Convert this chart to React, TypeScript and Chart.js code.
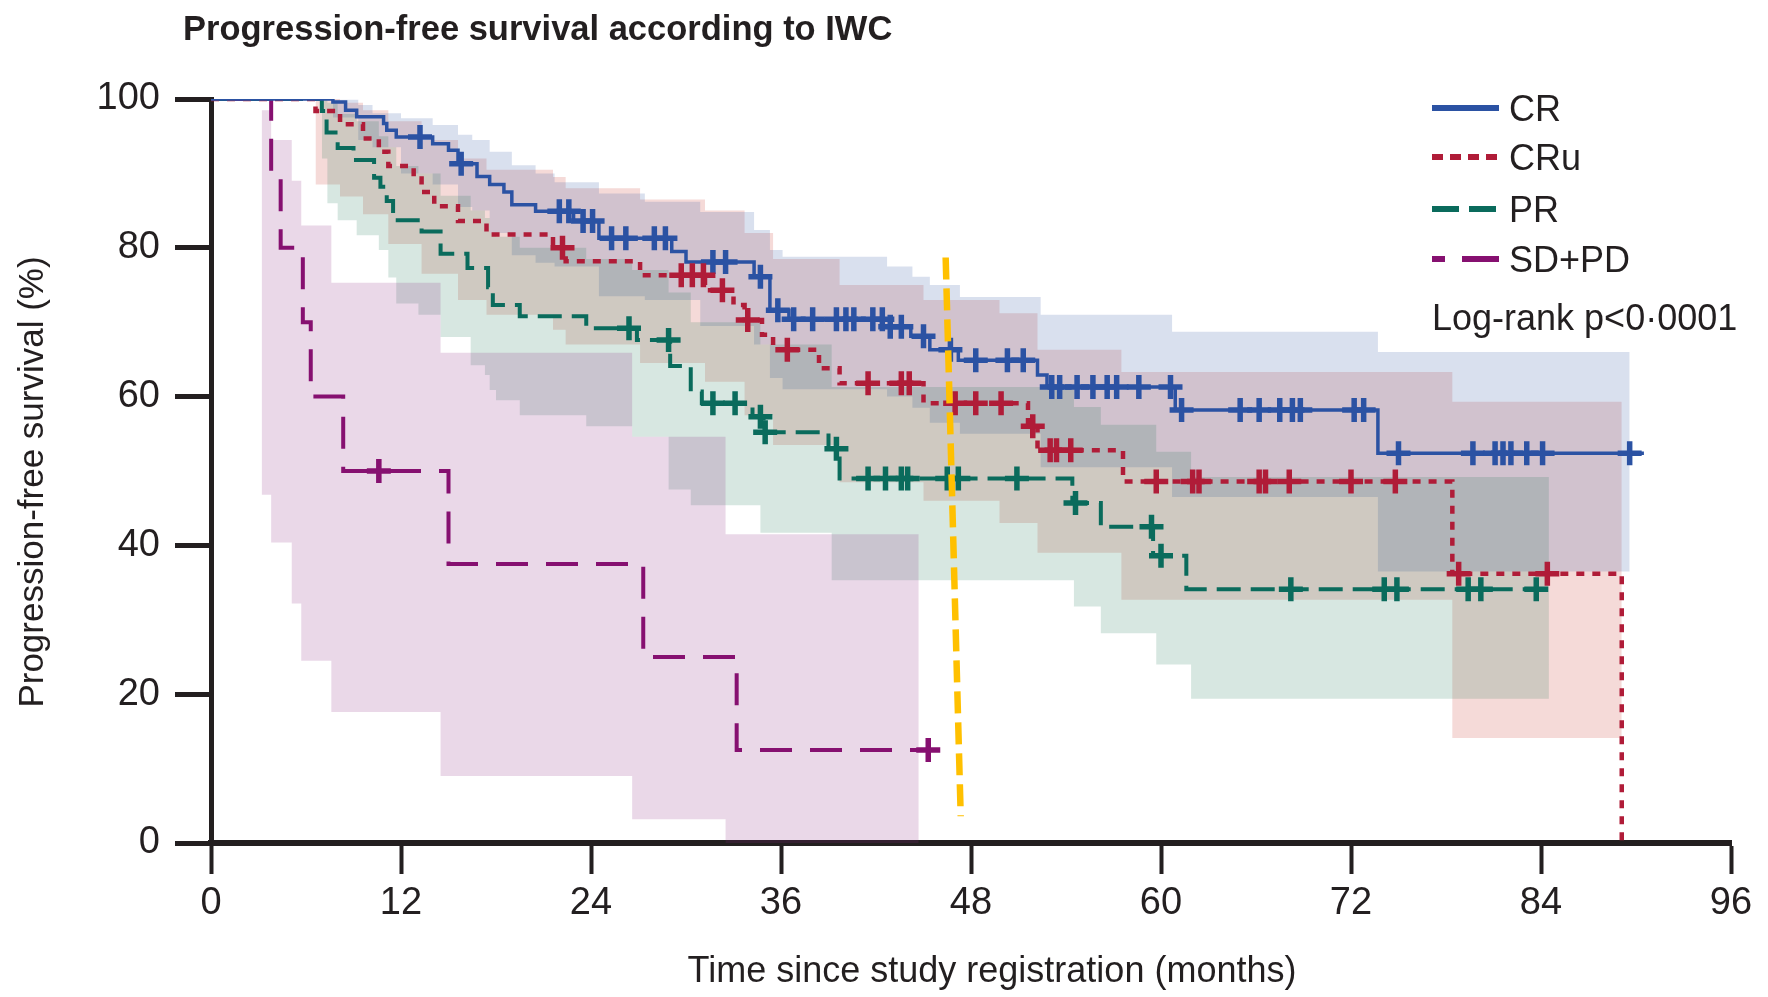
import React, { useEffect, useRef } from "react";
import { Chart, registerables } from "chart.js";

Chart.register(...registerables);

const INK = "#231f20";
const FONT = "'Liberation Sans', Arial, sans-serif";

const xTicks = [0, 12, 24, 36, 48, 60, 72, 84, 96];
const yTicks = [0, 20, 40, 60, 80, 100];

const chartTitle = "Progression-free survival according to IWC";
const xTitle = "Time since study registration (months)";
const yTitle = "Progression-free survival (%)";
const pValueText = "Log-rank p<0·0001";
const groupLabels = ["CR", "CRu", "PR", "SD+PD"];

// ---- CR ----
const crTime = [0, 7.7, 8.5, 9.2, 10.9, 11.1, 11.7, 14.0, 15.0, 15.6, 16.8, 17.6, 18.5, 19.0, 20.5, 22.9, 24.5, 29.1, 30.0, 34.3, 35.3, 36.5, 42.9, 44.2, 45.4, 47.2, 52.2, 52.8, 60.9, 73.7, 90.5];
const crSurv = [100, 99.6, 98.5, 97.6, 96.7, 95.8, 94.9, 94.0, 93.1, 91.3, 89.6, 88.5, 87.5, 85.8, 84.9, 83.6, 81.3, 79.5, 78.1, 76.1, 71.6, 70.4, 69.4, 68.1, 66.3, 64.9, 62.9, 61.3, 58.2, 52.4, 52.4];
const crCensor = [13.2, 15.8, 22.0, 22.6, 23.5, 24.1, 25.3, 26.2, 28.0, 28.7, 31.7, 32.5, 34.7, 35.8, 36.8, 38.0, 39.5, 40.1, 40.6, 41.8, 42.4, 42.9, 43.6, 45.0, 46.7, 48.3, 50.3, 51.3, 53.1, 53.6, 54.7, 55.7, 56.6, 57.2, 58.6, 60.6, 61.3, 65.0, 66.2, 67.5, 68.3, 68.8, 72.2, 72.8, 75.0, 79.7, 81.1, 81.6, 82.1, 83.1, 84.1, 89.6];
const crBandTime = [7.7, 9.3, 10.2, 12.0, 14.0, 15.6, 16.5, 17.6, 19.0, 20.5, 21.7, 24.5, 27.4, 30.9, 34.3, 35.3, 36.1, 42.7, 44.3, 45.4, 47.3, 52.4, 60.7, 73.7, 89.6];
const crBandHigh = [99.9, 99.2, 98.1, 97.4, 96.5, 95.2, 94.5, 92.9, 91.1, 90.0, 88.8, 87.3, 86.2, 84.8, 82.4, 79.7, 78.8, 77.5, 76.1, 75.0, 73.4, 71.0, 68.7, 66.0, 66.0];
const crBandLow = [97.5, 94.5, 93.5, 90.0, 88.5, 85.5, 85.0, 82.0, 79.0, 78.0, 77.5, 73.5, 73.0, 69.5, 67.0, 62.5, 61.0, 60.0, 58.5, 56.5, 55.0, 50.5, 46.5, 36.5, 36.5];

// ---- CRu ----
const cruTime = [0, 6.6, 8.15, 9.6, 10.6, 11.2, 12.8, 13.3, 14.1, 15.6, 17.4, 21.6, 22.4, 27.1, 31.2, 33.0, 33.7, 34.8, 35.5, 38.4, 39.7, 45.0, 51.6, 52.2, 57.6, 78.4, 89.1];
const cruSurv = [100, 98.4, 96.6, 94.7, 92.9, 91.0, 89.3, 87.5, 85.6, 83.6, 81.8, 80.0, 78.2, 76.3, 74.3, 72.3, 70.3, 68.3, 66.3, 63.8, 61.8, 59.1, 56.0, 52.8, 48.6, 36.2, 0];
const cruCensor = [22.2, 29.7, 30.4, 31.1, 32.3, 33.9, 36.4, 41.5, 43.6, 44.1, 47.0, 48.3, 49.9, 51.9, 53.0, 53.4, 54.3, 59.7, 62.0, 62.4, 66.2, 66.6, 68.1, 72.0, 74.8, 78.8, 84.4];
const cruBandTime = [6.6, 8.15, 9.6, 11.2, 13.3, 15.6, 17.4, 21.6, 22.4, 27.1, 31.2, 33.7, 35.5, 39.7, 45.0, 49.8, 52.2, 57.5, 78.4, 89.1];
const cruBandHigh = [100, 99.5, 98.5, 97.0, 94.5, 92.0, 90.5, 89.5, 88.0, 86.5, 85.0, 82.0, 78.5, 75.0, 73.0, 71.2, 66.3, 63.3, 59.3, 59.3];
const cruBandLow = [88.5, 86.9, 84.5, 80.5, 76.5, 73.0, 71.0, 69.0, 67.0, 64.5, 62.0, 57.5, 53.5, 48.5, 46.0, 43.0, 39.0, 32.7, 14.1, 14.1];

// ---- PR ----
const prTime = [0, 7.0, 7.3, 8.0, 9.0, 10.3, 10.7, 11.1, 11.5, 13.3, 14.5, 16.2, 17.5, 17.8, 19.5, 23.7, 26.9, 29.0, 30.3, 31.0, 34.2, 34.9, 39.0, 39.7, 54.4, 56.2, 59.5, 61.6, 84.0];
const prSurv = [100, 98.4, 95.5, 93.4, 91.8, 89.4, 88.2, 86.3, 83.7, 82.2, 79.2, 77.3, 74.7, 72.3, 70.8, 69.2, 67.6, 64.1, 60.7, 59.1, 57.3, 55.2, 53.0, 49.0, 45.7, 42.5, 38.6, 34.1, 34.1];
const prCensor = [26.4, 28.9, 31.7, 33.1, 34.7, 35.0, 39.5, 41.5, 42.6, 43.6, 44.0, 46.5, 47.2, 50.9, 54.6, 59.4, 60.0, 68.2, 74.1, 74.9, 79.4, 80.2, 83.7];
const prBandTime = [7.0, 7.35, 8.0, 9.2, 10.6, 11.2, 11.7, 13.1, 14.5, 16.4, 17.3, 17.6, 18.0, 19.5, 23.7, 26.6, 28.9, 30.3, 34.7, 39.2, 54.5, 56.2, 59.7, 61.9, 84.5];
const prBandHigh = [100, 99.5, 98.0, 97.0, 95.0, 93.5, 91.0, 90.0, 87.0, 85.0, 84.0, 82.0, 81.5, 80.0, 78.5, 77.0, 74.0, 70.0, 67.0, 61.3, 58.6, 56.2, 52.6, 49.2, 49.2];
const prBandLow = [92.0, 86.0, 83.7, 81.7, 79.7, 76.0, 72.5, 71.0, 68.0, 64.2, 62.9, 60.9, 59.5, 57.5, 56.0, 54.6, 47.5, 45.4, 41.7, 35.3, 31.8, 28.2, 24.0, 19.4, 19.4];

// ---- SD + PD ----
const sdTime = [0, 3.8, 4.4, 5.8, 6.3, 8.35, 15.0, 27.3, 33.2, 45.3];
const sdSurv = [100, 90, 80, 70, 60, 50, 37.5, 25, 12.5, 12.5];
const sdCensor = [10.6, 45.3];
const sdBandTime = [3.2, 3.8, 5.1, 5.7, 7.6, 14.5, 26.6, 32.5, 44.7];
const sdBandHigh = [98.5, 94.5, 89.0, 83.0, 75.3, 65.9, 54.6, 41.5, 41.5];
const sdBandLow = [46.8, 40.4, 32.2, 24.5, 17.6, 9.0, 3.2, 0, 0];

// ---- reference marker ----
const markerTime = [46.4, 47.35];
const markerValue = [78.7, 3.6];

const colors = {
  cr: "#2b52a3",
  cru: "#b01c38",
  pr: "#0a6b5c",
  sd: "#861070",
  marker: "#ffc000",
};
const bandColors = {
  cr: "rgba(43,82,163,0.18)",
  cru: "rgba(200,60,50,0.19)",
  pr: "rgba(20,110,80,0.17)",
  sd: "rgba(140,40,130,0.18)",
};

const pts = (xs: number[], ys: number[]) => xs.map((x, i) => ({ x, y: ys[i] }));
const survAt = (times: number[], vals: number[], t: number) => {
  let v = vals[0];
  for (let i = 0; i < times.length; i++) if (times[i] <= t) v = vals[i];
  return v;
};
const censorPts = (times: number[], vals: number[], cens: number[]) =>
  cens.map((t) => ({ x: t, y: survAt(times, vals, t) }));

const legendSpec = [
  { color: colors.cr, dash: [], y: 108 },
  { color: colors.cru, dash: [11, 7], y: 157 },
  { color: colors.pr, dash: [27, 10], y: 209 },
  { color: colors.sd, dash: [13, 17, 40], y: 259 },
];

const textPlugin = {
  id: "textOverlay",
  afterDraw(chart: any) {
    const ctx = chart.ctx as CanvasRenderingContext2D;
    ctx.save();
    ctx.fillStyle = INK;
    ctx.textBaseline = "alphabetic";
    ctx.font = `bold 34.5px ${FONT}`;
    ctx.textAlign = "left";
    ctx.fillText(chartTitle, 183, 40);

    ctx.font = `36px ${FONT}`;
    ctx.textAlign = "center";
    ctx.fillText(xTitle, 992, 982);
    ctx.save();
    ctx.translate(43, 482);
    ctx.rotate(-Math.PI / 2);
    ctx.font = `35px ${FONT}`;
    ctx.fillText(yTitle, 0, 0);
    ctx.restore();

    ctx.font = `36px ${FONT}`;
    ctx.textAlign = "left";
    legendSpec.forEach((l, i) => {
      ctx.save();
      ctx.strokeStyle = l.color;
      ctx.lineWidth = 6;
      ctx.setLineDash(l.dash);
      ctx.beginPath();
      ctx.moveTo(1432, l.y);
      ctx.lineTo(1499, l.y);
      ctx.stroke();
      ctx.restore();
      ctx.fillText(groupLabels[i], 1509, l.y + 13);
    });
    ctx.fillText(pValueText, 1432, 330);
    ctx.restore();
  },
};

const band = (xs: number[], hi: number[], lo: number[], fillColor: string, label: string) => [
  {
    type: "line",
    label: label + " upper",
    data: pts(xs, hi),
    stepped: "before",
    borderColor: "rgba(0,0,0,0)",
    borderWidth: 0,
    pointRadius: 0,
    backgroundColor: fillColor,
    fill: "+1",
    order: 10,
  },
  {
    type: "line",
    label: label + " lower",
    data: pts(xs, lo),
    stepped: "before",
    borderColor: "rgba(0,0,0,0)",
    borderWidth: 0,
    pointRadius: 0,
    fill: false,
    order: 10,
  },
];

const curve = (xs: number[], ys: number[], color: string, dash: number[], width: number, label: string, order: number) => ({
  type: "line",
  label,
  data: pts(xs, ys),
  stepped: "before",
  borderColor: color,
  borderWidth: width,
  borderDash: dash,
  pointRadius: 0,
  fill: false,
  order,
});

const censors = (data: any[], color: string, label: string, order: number) => ({
  type: "scatter",
  label: label + " censored",
  data,
  pointStyle: "cross",
  pointRadius: 12,
  pointBorderWidth: 5.5,
  borderColor: color,
  backgroundColor: color,
  showLine: false,
  order,
});

export default function App() {
  const ref = useRef<HTMLCanvasElement | null>(null);
  useEffect(() => {
    if (!ref.current) return;
    const chart = new Chart(ref.current, {
      type: "line",
      data: {
        datasets: [
          ...band(sdBandTime, sdBandHigh, sdBandLow, bandColors.sd, "SD+PD"),
          ...band(prBandTime, prBandHigh, prBandLow, bandColors.pr, "PR"),
          ...band(crBandTime, crBandHigh, crBandLow, bandColors.cr, "CR"),
          ...band(cruBandTime, cruBandHigh, cruBandLow, bandColors.cru, "CRu"),
          curve(sdTime, sdSurv, colors.sd, [32, 18], 4, "SD+PD", 6),
          curve(prTime, prSurv, colors.pr, [24, 10], 4, "PR", 5),
          curve(cruTime, cruSurv, colors.cru, [8, 8], 4.5, "CRu", 4),
          curve(crTime, crSurv, colors.cr, [], 3.5, "CR", 3),
          censors(censorPts(sdTime, sdSurv, sdCensor), colors.sd, "SD+PD", 2),
          censors(censorPts(prTime, prSurv, prCensor), colors.pr, "PR", 2),
          censors(censorPts(cruTime, cruSurv, cruCensor), colors.cru, "CRu", 2),
          censors(censorPts(crTime, crSurv, crCensor), colors.cr, "CR", 2),
          {
            type: "line",
            label: "marker",
            data: pts(markerTime, markerValue),
            borderColor: colors.marker,
            borderWidth: 6.5,
            borderDash: [22, 9],
            pointRadius: 0,
            fill: false,
            order: 0,
          },
        ] as any,
      },
      options: {
        responsive: false,
        animation: false,
        devicePixelRatio: 1,
        events: [],
        layout: { padding: { left: 0, right: 37, top: 99, bottom: 0 } },
        plugins: {
          legend: { display: false },
          tooltip: { enabled: false },
          title: { display: false },
        },
        scales: {
          x: {
            type: "linear",
            min: 0,
            max: 96,
            afterBuildTicks: (s: any) => {
              s.ticks = xTicks.map((v) => ({ value: v }));
            },
            afterFit: (s: any) => {
              s.height = 154;
            },
            ticks: {
              autoSkip: false,
              maxRotation: 0,
              color: INK,
              padding: 7,
              font: { family: FONT, size: 38 },
            },
            grid: {
              drawOnChartArea: false,
              drawTicks: true,
              tickLength: 31,
              tickWidth: 4,
              tickColor: INK,
            },
            border: { display: true, color: INK, width: 6 },
          },
          y: {
            type: "linear",
            min: 0,
            max: 100,
            afterBuildTicks: (s: any) => {
              s.ticks = yTicks.map((v) => ({ value: v }));
            },
            afterFit: (s: any) => {
              s.width = 211;
            },
            ticks: {
              autoSkip: false,
              color: INK,
              padding: 15,
              font: { family: FONT, size: 38 },
            },
            grid: {
              drawOnChartArea: false,
              drawTicks: true,
              tickLength: 36,
              tickWidth: 5,
              tickColor: INK,
            },
            border: { display: true, color: INK, width: 5 },
          },
        },
      },
      plugins: [textPlugin],
    } as any);
    return () => chart.destroy();
  }, []);

  return (
    <div style={{ position: "fixed", left: 0, top: 0, width: 1768, height: 997, background: "#fff" }}>
      <canvas ref={ref} width={1768} height={997} style={{ display: "block" }} />
    </div>
  );
}
